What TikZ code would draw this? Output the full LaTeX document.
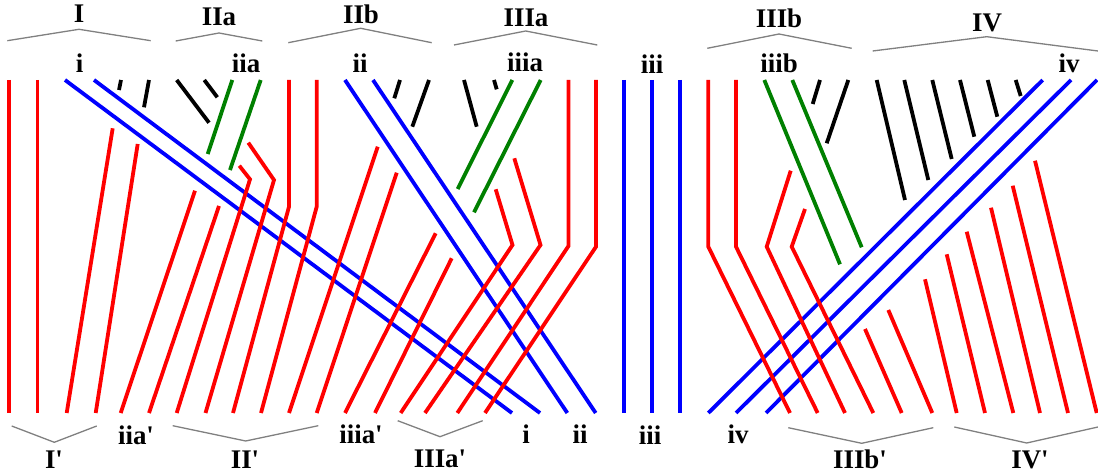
\documentclass[tikz,border=0pt]{standalone}
\usepackage{fontspec}
\setmainfont{Liberation Serif}
\newcommand{\pr}{\textquotesingle}

\begin{document}
\begin{tikzpicture}[x=1bp, y=-1bp,
    redline/.style={red, line width=3.8bp},
    blueline/.style={blue, line width=3.8bp},
    greenline/.style={green!50!black, line width=3.8bp},
    blackline/.style={black, line width=3.8bp},
    brace/.style={gray, line width=1.3bp},
    lab/.style={font=\bfseries\fontsize{27}{27}\selectfont, anchor=base, inner sep=0pt}]
    \useasboundingbox (0,0) rectangle (1098,474);

    % blue strands i, ii, iii, iv
    \draw[blueline] (65,80) -- (512,413) (94,80) -- (540,413);
    \draw[blueline] (345,80) -- (567.3,413) (373,80) -- (595.7,413);
    \draw[blueline] (624,80) -- (624,413) (652,80) -- (652,413) (680,80) -- (680,413);
    \draw[blueline] (1042.7,80) -- (708.3,413) (1071,80) -- (736,413) (1097,80) -- (766,413);

    % red strands, left part
    \draw[redline] (9,80) -- (9,413) (37.5,80) -- (37.5,413);
    \draw[redline] (112.7,128.3) -- (66.7,413) (137.7,144) -- (95.7,413);
    \draw[redline] (195,190.7) -- (120.7,413) (219,206) -- (149,413);
    \draw[redline] (239.3,165.7) -- (250,179.3) -- (176.7,413);
    \draw[redline] (248.3,142.7) -- (274,180) -- (205.5,413);
    \draw[redline] (289,80) -- (289,206.7) -- (233,413);
    \draw[redline] (316.7,80) -- (316.7,206.7) -- (261,413);
    \draw[redline] (377.7,146.7) -- (289,413) (396.7,172.7) -- (316.7,413);
    % red strands, middle part
    \draw[redline] (435.7,233.3) -- (345,413) (451.7,258.3) -- (375,413);
    \draw[redline] (495.7,189.3) -- (512.5,245) -- (400.7,413);
    \draw[redline] (514.3,158.3) -- (540.5,245) -- (425,413);
    \draw[redline] (568.5,80) -- (568.5,246) -- (457.3,413);
    \draw[redline] (596,80) -- (596,246.7) -- (485,413);
    % red strands, right part
    \draw[redline] (708.3,80) -- (708.3,246.7) -- (790,413);
    \draw[redline] (736,80) -- (736,246.7) -- (817.7,413);
    \draw[redline] (790.7,170.7) -- (766.7,246.7) -- (845,413);
    \draw[redline] (805,209) -- (791.7,246.7) -- (873.3,413);
    \draw[redline] (865,329) -- (901.7,413) (888.3,310) -- (932.3,413);
    \draw[redline] (925,279.3) -- (956.7,413) (946.7,254.3) -- (985,413)
        (966.7,231.7) -- (1013.3,413) (991,207.7) -- (1040,413)
        (1012.7,185.7) -- (1068,413) (1035,160.7) -- (1096.7,413);

    % green strands iia, iiia, iiib
    \draw[greenline] (232.3,80) -- (207.7,154) (260.7,80) -- (230,170);
    \draw[greenline] (512.3,80) -- (457.7,189) (540.7,80) -- (474,212.3);
    \draw[greenline] (764.3,80) -- (840,264.3) (792.3,80) -- (861.7,247.3);

    % black stubs
    \draw[blackline] (121,80) -- (119,90) (149,80) -- (144,107.3);
    \draw[blackline] (176.7,80) -- (209,122.7) (204.3,80) -- (217.3,97.3);
    \draw[blackline] (400,80) -- (394.3,98.3) (429,80) -- (412.3,126.7);
    \draw[blackline] (464,80) -- (476.7,126.7) (494,80) -- (496.7,89.3);
    \draw[blackline] (820,80) -- (812.7,104) (848.3,80) -- (826.7,143.3);
    \draw[blackline] (876.7,80) -- (905,200) (904.3,80) -- (928.3,180)
        (932.3,80) -- (951.7,159) (960,80) -- (974.3,136.7)
        (987.7,80) -- (997.3,116.7) (1015.7,80) -- (1020.7,96);

    % top groups
    \draw[brace] (7.3,40.7) -- (79,29.3) -- (150.7,40.7);
    \draw[brace] (175.7,41) -- (219,33) -- (262.3,41);
    \draw[brace] (288.3,42.7) -- (360.7,28.3) -- (431.7,42.7);
    \draw[brace] (454,45) -- (525.7,31) -- (597.3,45);
    \draw[brace] (707.3,48.3) -- (779,34) -- (851.7,48.3);
    \draw[brace] (872.7,51) -- (986.7,36.7) -- (1098,51);
    \node[lab] (gI) at (79,23) {I};
    \node[lab] (gIIa) at (219,26) {IIa};
    \node[lab] (gIIb) at (361,23.5) {IIb};
    \node[lab] (gIIIa) at (526,26.5) {IIIa};
    \node[lab] (gIIIb) at (779,28) {IIIb};
    \node[lab] (gIV) at (987,31.5) {IV};

    \node[lab] (ti) at (79.5,73) {i};
    \node[lab] (tiia) at (246,73) {iia};
    \node[lab] (tii) at (360,73) {ii};
    \node[lab] (tiiia) at (525,72) {iiia};
    \node[lab] (tiii) at (652,74) {iii};
    \node[lab] (tiiib) at (779,73) {iiib};
    \node[lab] (tiv) at (1069,73) {iv};

    % bottom groups
    \draw[brace] (11.7,426) -- (54.3,442.3) -- (96.7,426);
    \draw[brace] (172.7,425.7) -- (245.7,441) -- (318.3,425.7);
    \draw[brace] (397.7,420.7) -- (440,436.7) -- (482.7,420.7);
    \draw[brace] (788.3,427.7) -- (861.7,443.3) -- (933.3,427.7);
    \draw[brace] (954.3,427) -- (1026.7,443) -- (1098,427);
    \node[lab] (bI) at (54,468) {I\pr};
    \node[lab] (bII) at (245,468) {II\pr};
    \node[lab] (bIIIa) at (440,467) {IIIa\pr};
    \node[lab] (bIIIb) at (860,468) {IIIb\pr};
    \node[lab] (bIV) at (1030,468) {IV\pr};

    \node[lab] (biia) at (136,444) {iia\pr};
    \node[lab] (biiia) at (361,443) {iiia\pr};
    \node[lab] (bi) at (526,443) {i};
    \node[lab] (bii) at (580,443) {ii};
    \node[lab] (biii) at (650,444) {iii};
    \node[lab] (biv) at (738,443) {iv};
\end{tikzpicture}
\end{document}
